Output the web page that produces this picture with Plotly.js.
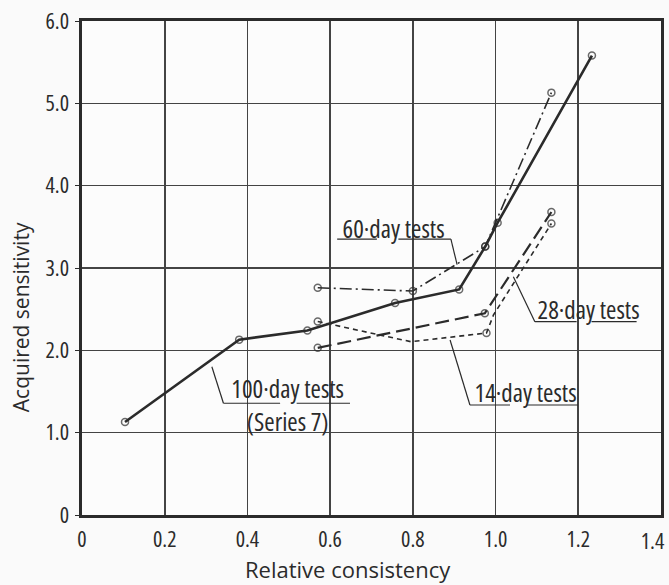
<!DOCTYPE html>
<html>
<head>
<meta charset="utf-8">
<script src="https://cdn.plot.ly/plotly-3.0.1.min.js"></script>
<style>
  html, body { margin: 0; padding: 0; background: #fafafa; }
  #chart { width: 669px; height: 585px; }
  /* narrow lettering for ticks and callouts; axis titles keep the normal width */
  #chart text { font-stretch: 75% !important; }
  #chart text[data-unformatted="Relative consistency"],
  #chart text[data-unformatted="Acquired sensitivity"] { font-stretch: 100% !important; }
</style>
</head>
<body>
<div id="chart"></div>
<script>
// Relative consistency (x) vs acquired sensitivity (y) for each test age
const x100 = [0.104, 0.380, 0.545, 0.757, 0.912, 0.975, 1.005, 1.233];
const y100 = [1.13, 2.13, 2.24, 2.575, 2.74, 3.26, 3.55, 5.58];
const m100 = [1, 1, 1, 1, 1, 1, 1, 1];

const x60 = [0.570, 0.800, 0.975, 1.135];
const y60 = [2.76, 2.72, 3.26, 5.13];
const m60 = [1, 1, 1, 1];

const x28 = [0.570, 0.974, 1.135];
const y28 = [2.03, 2.45, 3.68];
const m28 = [1, 1, 1];

const x14 = [0.570, 0.795, 0.978, 0.995, 1.135];
const y14 = [2.35, 2.105, 2.21, 2.43, 3.54];
const m14 = [1, 0, 1, 0, 1];

const xTicks = [0, 0.2, 0.4, 0.6, 0.8, 1.0, 1.2, 1.4];
const xTickText = ['0', '0.2', '0.4', '0.6', '0.8', '1.0', '1.2', ''];
const xLastTick = '1.4';
const yTicks = [0, 1, 2, 3, 4, 5, 6];
const yTickText = ['0', '1.0', '2.0', '3.0', '4.0', '5.0', '6.0'];

const ink = '#2b2b2b';
const FONT = '"Open Sans", "Liberation Sans", sans-serif';

function series(xs, ys, marks, dash, width) {
  return {
    x: xs, y: ys, type: 'scatter', mode: 'lines+markers',
    line: { color: ink, width: width, dash: dash },
    marker: {
      symbol: 'circle-open',
      size: marks.map(m => m ? 7 : 0),
      color: ink,
      line: { color: ink, width: 1.5 }
    },
    hoverinfo: 'skip', showlegend: false
  };
}

const traces = [
  series(x100, y100, m100, 'solid', 2.6),
  series(x60, y60, m60, '12px,4px,2px,4px', 1.6),
  series(x28, y28, m28, '14px,6px', 2.2),
  series(x14, y14, m14, '5px,4px', 1.6)
];

// Callout labels: text, text centre, underline segments and leader line (data units)
const labels = [
  { text: '60·day tests', x: 0.754, y: 3.49,
    under: [[0.617, 0.713], [0.765, 0.892]], y0: 3.35,
    leader: [[0.892, 3.35], [0.907, 3.04]] },
  { text: '28·day tests', x: 1.225, y: 2.50,
    under: [[1.095, 1.196], [1.232, 1.341]], y0: 2.348,
    leader: [[1.095, 2.348], [1.043, 2.895]] },
  { text: '14·day tests', x: 1.072, y: 1.494,
    under: [[0.938, 1.035], [1.075, 1.199]], y0: 1.336,
    leader: [[0.938, 1.336], [0.890, 2.126]] },
  { text: '100·day tests<br>(Series 7)', x: 0.497, y: 1.34,
    under: [[0.342, 0.479], [0.519, 0.648]], y0: 1.357,
    leader: [[0.342, 1.357], [0.314, 1.80]] }
];

const shapes = [];
const annotations = [];
labels.forEach(l => {
  annotations.push({ x: l.x, y: l.y, xref: 'x', yref: 'y', text: l.text,
    showarrow: false, borderpad: 0, font: { family: FONT, size: 25, color: ink } });
  l.under.forEach(u => shapes.push({ type: 'line', xref: 'x', yref: 'y',
    x0: u[0], x1: u[1], y0: l.y0, y1: l.y0, line: { color: ink, width: 1.2 } }));
  shapes.push({ type: 'line', xref: 'x', yref: 'y',
    x0: l.leader[0][0], y0: l.leader[0][1], x1: l.leader[1][0], y1: l.leader[1][1],
    line: { color: ink, width: 1.2 } });
});

// last x tick label sits flush with the right edge of the figure
annotations.push({ x: 1, y: 0, xref: 'paper', yref: 'paper', text: xLastTick,
  xanchor: 'right', yanchor: 'top', yshift: -8, xshift: 9, showarrow: false,
  font: { family: FONT, size: 22, color: ink } });

// Axis titles
annotations.push({ x: 0.459, y: 0, xref: 'paper', yref: 'paper', text: 'Relative consistency',
  showarrow: false, xanchor: 'center', yanchor: 'bottom', yshift: -70, borderpad: 0,
  font: { family: FONT, size: 22, color: ink, weight: 500 } });
annotations.push({ x: -0.104, y: 0.40, xref: 'paper', yref: 'paper', text: 'Acquired sensitivity',
  textangle: -90, showarrow: false, xanchor: 'center', yanchor: 'middle',
  font: { family: FONT, size: 21, color: ink } });

const layout = {
  width: 669, height: 585,
  margin: { l: 82, r: 8, t: 21, b: 70 },
  paper_bgcolor: '#fafafa', plot_bgcolor: '#fcfcfc',
  font: { family: FONT, color: ink },
  xaxis: {
    range: [0, 1.4], tickvals: xTicks, ticktext: xTickText,
    showgrid: true, gridcolor: '#444', gridwidth: 1.6,
    showline: true, linecolor: ink, linewidth: 2.6, mirror: true,
    ticks: '', ticklabelstandoff: 3, zeroline: false,
    tickfont: { family: FONT, size: 22, color: ink }
  },
  yaxis: {
    range: [0, 6], tickvals: yTicks, ticktext: yTickText,
    showgrid: true, gridcolor: '#444', gridwidth: 1.6,
    showline: true, linecolor: ink, linewidth: 2.6, mirror: true,
    ticks: 'outside', ticklen: 4, tickcolor: ink, ticklabelstandoff: 2,
    zeroline: false,
    tickfont: { family: FONT, size: 22, color: ink }
  },
  shapes: shapes,
  annotations: annotations
};

Plotly.newPlot('chart', traces, layout, { staticPlot: true, displayModeBar: false });
</script>
</body>
</html>
